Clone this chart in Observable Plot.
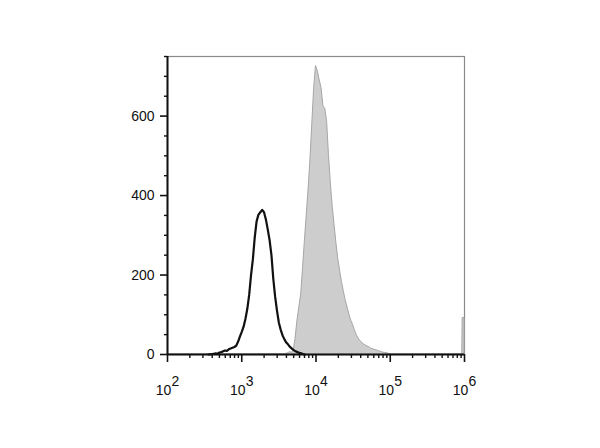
<!DOCTYPE html>
<html>
<head>
<meta charset="utf-8">
<script src="https://cdn.jsdelivr.net/npm/d3@7"></script>
<script src="https://cdn.jsdelivr.net/npm/@observablehq/plot@0.6"></script>
<style>
  html, body { margin: 0; padding: 0; background: #fff; }
  #chart { width: 600px; height: 448px; }
</style>
</head>
<body>
<div id="chart"></div>
<script>
// Control (unstained) histogram: log10 of fluorescence channel, event count
const ctrlExp = [2.550, 2.600, 2.625, 2.650, 2.675, 2.700, 2.725, 2.750, 2.775, 2.800, 2.825, 2.850, 2.875, 2.900, 2.925,
  2.950, 2.975, 3.000, 3.025, 3.050, 3.075, 3.100, 3.125, 3.150, 3.175, 3.200, 3.225, 3.250, 3.275, 3.300,
  3.325, 3.350, 3.375, 3.400, 3.425, 3.450, 3.475, 3.500, 3.525, 3.550, 3.575, 3.600, 3.625, 3.650, 3.675,
  3.700, 3.725, 3.750, 3.775, 3.800, 3.825, 3.850];
const ctrlCount = [0, 1, 2, 3, 2, 5, 6, 8, 10, 9, 13, 15, 17, 19, 22,
  32, 45, 57, 70, 90, 115, 150, 200, 240, 295, 335, 352, 358, 364, 358,
  340, 315, 288, 250, 190, 145, 110, 80, 62, 48, 38, 30, 25, 19, 15,
  11, 8, 6, 4, 3, 1, 0];

// Stained histogram (grey filled)
const stainExp = [2.000, 3.575, 3.600, 3.625, 3.650, 3.675, 3.700, 3.725, 3.750, 3.775, 3.800, 3.825, 3.850, 3.875, 3.900,
  3.925, 3.950, 3.975, 4.000, 4.025, 4.050, 4.075, 4.100, 4.125, 4.150, 4.175, 4.200, 4.225, 4.250, 4.275,
  4.300, 4.325, 4.350, 4.375, 4.400, 4.425, 4.450, 4.475, 4.500, 4.525, 4.550, 4.575, 4.600, 4.625, 4.650,
  4.675, 4.700, 4.725, 4.750, 4.775, 4.800, 4.825, 4.850, 4.875, 4.900, 4.925, 4.950, 4.975, 5.000, 5.025,
  5.970, 5.975, 6.000];
const stainCount = [0, 0, 2, 3, 6, 4, 10, 40, 85, 118, 150, 215, 285, 350, 415,
  490, 580, 670, 726, 712, 690, 670, 625, 618, 585, 500, 430, 372, 325, 280,
  240, 210, 182, 158, 136, 118, 100, 85, 74, 60, 48, 40, 33, 29, 25,
  22, 20, 17, 14, 13, 11, 10, 8, 7, 5, 4, 4, 2, 1, 0,
  0, 92, 92];

const xMajor = [1e2, 1e3, 1e4, 1e5, 1e6];
const yMajor = [0, 200, 400, 600];
const yMinor = [50, 100, 150, 250, 300, 350, 450, 500, 550, 650, 700, 750];
const xMinor = [1e2, 1e3, 1e4, 1e5].flatMap(d => [2, 3, 4, 5, 6, 7, 8, 9].map(k => d * k));

const ctrl = ctrlExp.map((e, i) => ({x: Math.pow(10, e), y: ctrlCount[i]}));
const stain = stainExp.map((e, i) => ({x: Math.pow(10, e), y: stainCount[i]}));

const chart = Plot.plot({
  width: 600,
  height: 448,
  marginLeft: 167,
  marginRight: 136,
  marginTop: 56,
  marginBottom: 94,
  style: {fontFamily: "'Liberation Sans', Arial, sans-serif", fontSize: "14px", color: "#111", background: "#fff"},
  x: {type: "log", domain: [1e2, 1e6], label: null},
  y: {domain: [0, 750], label: null},
  marks: [
    Plot.frame({stroke: "#8a8a8a", strokeWidth: 1.2}),
    Plot.areaY(stain, {x: "x", y: "y", fill: "#cdcdcd", stroke: "#a6a6a6", strokeWidth: 1}),
    Plot.lineY(ctrl, {x: "x", y: "y", stroke: "#111", strokeWidth: 2.2}),
    Plot.ruleX([1e2], {stroke: "#111", strokeWidth: 2}),
    Plot.ruleY([0], {stroke: "#111", strokeWidth: 2}),
    Plot.axisY(yMajor, {tickSize: 7, tickPadding: 6, strokeWidth: 1.6, fontSize: 14}),
    Plot.axisY(yMinor, {tickSize: 3, strokeWidth: 1.4, tickFormat: () => ""}),
    Plot.axisX(xMajor, {tickSize: 8, tickPadding: 23, strokeWidth: 1.6, fontSize: 14,
      tickFormat: d => "10^" + Math.round(Math.log10(d))}),
    Plot.axisX(xMinor, {tickSize: 4, strokeWidth: 1.4, tickFormat: () => ""})
  ]
});

// Render exponents as superscripts
chart.querySelectorAll("text").forEach(t => {
  const m = /^10\^(\d+)$/.exec(t.textContent);
  if (!m) return;
  t.textContent = "";
  const ns = "http://www.w3.org/2000/svg";
  const b = document.createElementNS(ns, "tspan");
  b.textContent = "10";
  const s = document.createElementNS(ns, "tspan");
  s.setAttribute("dy", "-0.7em");
  s.textContent = m[1];
  t.appendChild(b);
  t.appendChild(s);
});

document.getElementById("chart").appendChild(chart);
</script>
</body>
</html>
